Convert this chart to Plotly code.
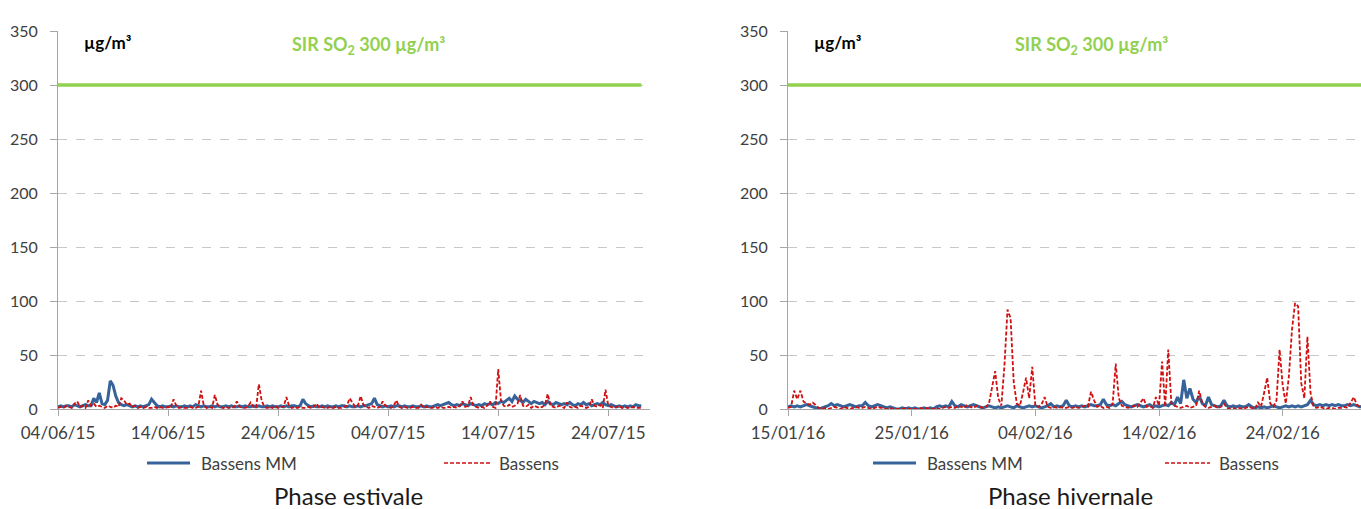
import pandas as pd
import plotly.graph_objects as go

# ---------------- DATA ----------------
# Summer phase: 6-hourly values starting 04/06/2015 00:00 (µg/m³)
summer_start = "2015-06-04 00:00"
summer_mm = [
    2, 3, 2, 3,  3, 2, 4, 3,  2, 3, 4, 3,  3, 10, 6, 15,  5, 4, 8, 26,
    22, 12, 6, 4,  3, 4, 3, 2,  3, 2, 3, 2,  3, 4, 9, 6,  3, 2, 3, 2,
    2, 3, 2, 3,  2, 2, 3, 2,  3, 2, 4, 3,  2, 3, 2, 2,  3, 2, 3, 2,
    2, 3, 2, 3,  2, 2, 3, 2,  3, 2, 2, 3,  2, 3, 2, 2,  3, 2, 3, 2,
    2, 3, 2, 3,  2, 3, 3, 2,  3, 9, 5, 3,  2, 3, 2, 2,  3, 2, 3, 2,
    2, 3, 2, 3,  3, 2, 3, 2,  2, 3, 2, 3,  3, 4, 5, 10,  4, 3, 2, 3,
    2, 3, 2, 3,  3, 2, 3, 2,  2, 3, 2, 2,  3, 2, 3, 2,  2, 3, 4, 3,
    4, 5, 6, 4,  3, 4, 3, 5,  4, 3, 5, 4,  3, 4, 3, 5,  4, 5, 4, 6,
    5, 7, 6, 8,  10, 7, 12, 9,  8, 6, 9, 7,  5, 7, 6, 5,  6, 4, 7, 5,
    4, 6, 5, 4,  5, 4, 6, 4,  3, 5, 4, 6,  4, 5, 3, 4,  5, 4, 6, 4,
    3, 4, 3, 2,  3, 2, 3, 2,  3, 2, 4, 3,  3,
]
summer_station = [
    1, 2, 1, 3,  2, 1, 5, 7,  2, 3, 1, 8,  3, 5, 2, 3,  2, 1, 3, 2,
    1, 3, 2, 10,  8, 4, 5, 2,  3, 1, 2, 1,  2, 1, 1, 2,  1, 2, 1, 1,
    2, 1, 9, 3,  1, 2, 1, 1,  2, 1, 1, 2,  17, 3, 1, 2,  1, 13, 4, 2,
    1, 2, 1, 1,  2, 7, 2, 1,  1, 2, 6, 2,  1, 23, 8, 2,  1, 2, 1, 3,
    1, 2, 2, 11,  3, 1, 2, 1,  2, 1, 1, 2,  1, 2, 5, 1,  2, 1, 1, 2,
    1, 2, 1, 1,  2, 3, 10, 6,  2, 3, 12, 4,  2, 1, 3, 2,  1, 2, 7, 3,
    2, 1, 3, 8,  2, 1, 2, 1,  1, 2, 1, 1,  4, 1, 2, 1,  1, 2, 1, 2,
    1, 1, 2, 1,  2, 1, 3, 7,  2, 3, 11, 3,  2, 1, 2, 1,  3, 7, 2, 1,
    37, 8, 3, 2,  4, 2, 3, 5,  13, 3, 2, 4,  1, 3, 2, 1,  2, 4, 14, 3,
    2, 1, 3, 2,  1, 6, 2, 1,  2, 1, 3, 2,  1, 2, 9, 3,  2, 4, 1, 18,
    3, 2, 1, 2,  3, 1, 2, 1,  1, 2, 1, 1,  1,
]

# Winter phase: 6-hourly values starting 15/01/2016 00:00 (µg/m³)
winter_start = "2016-01-15 00:00"
winter_mm = [
    2, 3, 2, 3,  2, 3, 4, 3,  2, 1, 0, 1,  2, 3, 5, 3,  4, 3, 2, 3,
    4, 3, 2, 3,  3, 6, 3, 2,  3, 4, 3, 2,  1, 2, 1, 0,  0, 1, 0, 1,
    0, 1, 0, 0,  1, 0, 1, 0,  2, 3, 2, 3,  2, 7, 3, 2,  4, 3, 2, 3,
    4, 3, 2, 1,  2, 3, 2, 1,  2, 1, 2, 3,  2, 1, 3, 2,  1, 2, 3, 2,
    3, 2, 1, 2,  3, 5, 2, 3,  2, 3, 8, 3,  2, 3, 2, 3,  2, 3, 4, 3,
    3, 4, 9, 4,  3, 4, 3, 5,  7, 4, 3, 2,  3, 4, 3, 2,  3, 4, 2, 3,
    2, 3, 4, 3,  6, 4, 11, 5,  27, 10, 19, 9,  6, 12, 5, 3,  11, 4, 3, 2,
    3, 8, 3, 2,  3, 2, 3, 2,  2, 4, 2, 1,  2, 1, 2, 1,  2, 3, 2, 1,
    2, 3, 2, 3,  2, 3, 2, 3,  4, 8, 4, 3,  4, 3, 4, 3,  4, 3, 4, 3,
    3, 4, 3, 4,  3, 2, 3,
]
winter_station = [
    1, 2, 17, 9,  17, 7, 5, 4,  6, 3, 1, 0,  1, 0, 1, 2,  1, 0, 2, 1,
    0, 1, 2, 1,  1, 2, 1, 0,  1, 2, 1, 1,  0, 1, 0, 0,  0, 0, 1, 0,
    0, 0, 0, 1,  0, 1, 0, 0,  1, 0, 1, 2,  1, 2, 1, 3,  2, 1, 4, 2,
    1, 3, 2, 1,  2, 5, 20, 35,  10, 3, 40, 92,  84, 25, 5, 3,  15, 29, 10, 39,
    3, 2, 4, 11,  2, 1, 2, 1,  2, 1, 1, 2,  1, 2, 1, 2,  3, 2, 16, 8,
    2, 3, 1, 2,  1, 5, 42, 10,  3, 2, 1, 2,  3, 2, 6, 10,  2, 3, 1, 11,
    3, 44, 2, 55,  5, 3, 2, 1,  2, 3, 1, 2,  3, 17, 5, 2,  1, 2, 3, 1,
    2, 5, 1, 0,  1, 0, 1, 0,  1, 2, 1, 0,  6, 2, 15, 29,  5, 2, 8, 55,
    22, 5, 30, 73,  98, 95, 24, 10,  67, 15, 2, 1,  2, 1, 0, 1,  1, 0, 1, 1,
    2, 1, 6, 11,  4, 2, 1,
]

threshold = [300, 300]
y_ticks = [0, 50, 100, 150, 200, 250, 300, 350]
series_names = ["Bassens MM", "Bassens"]
phase_titles = ["Phase estivale", "Phase hivernale"]
unit_label = "µg/m³"
threshold_label = "SIR SO<sub>2</sub> 300 µg/m³"

summer_range = ["2015-06-04 00:00", "2015-07-27 19:00"]
winter_range = ["2016-01-15 00:00", "2016-03-01 08:00"]

# ---------------- FIGURE ----------------
W, H = 1361, 509
BLUE = "#36639A"
RED = "#D01010"
GREEN = "#92D050"
TXT = "#404040"
FONT = "Lato"

t_s = pd.date_range(summer_start, periods=len(summer_mm), freq="6h")
t_w = pd.date_range(winter_start, periods=len(winter_mm), freq="6h")

fig = go.Figure()

def add_panel(t, mm, st, xa, ya):
    fig.add_trace(go.Scatter(x=[t[0], t[-1]], y=threshold, mode="lines",
                             line=dict(color=GREEN, width=3.5), xaxis=xa, yaxis=ya,
                             showlegend=False, hoverinfo="skip"))
    fig.add_trace(go.Scatter(x=t, y=mm, mode="lines", name=series_names[0],
                             line=dict(color=BLUE, width=3), xaxis=xa, yaxis=ya,
                             showlegend=False))
    fig.add_trace(go.Scatter(x=t, y=st, mode="lines", name=series_names[1],
                             line=dict(color=RED, width=1.8, dash="4px,2px"),
                             xaxis=xa, yaxis=ya, showlegend=False))

add_panel(t_s, summer_mm, summer_station, "x", "y")
add_panel(t_w, winter_mm, winter_station, "x2", "y2")

y_dom = [(H - 409) / H, (H - 31) / H]

xcommon = dict(type="date", tickformat="%d/%m/%y", dtick=10 * 86400000,
               showgrid=False, showline=True, linecolor="#A6A6A6", linewidth=1,
               ticks="outside", ticklen=6, tickcolor="#A6A6A6",
               tickfont=dict(family=FONT, size=17, color=TXT),
               ticklabelstandoff=3, zeroline=False, fixedrange=True,
               automargin=False)
ycommon = dict(range=[0, 350], tickvals=y_ticks, showgrid=True,
               gridcolor="#C8C8C8", griddash="dash", gridwidth=1,
               showline=True, linecolor="#A6A6A6", linewidth=1,
               ticks="outside", ticklen=7, tickcolor="#A6A6A6",
               tickfont=dict(family=FONT, size=16, color=TXT),
               ticklabelstandoff=9, zeroline=False, domain=y_dom,
               automargin=False)

fig.update_layout(
    width=W, height=H,
    margin=dict(l=0, r=0, t=0, b=0, autoexpand=False),
    paper_bgcolor="white", plot_bgcolor="white",
    showlegend=False,
    xaxis=dict(domain=[58 / W, 650 / W], range=summer_range, tick0=summer_range[0],
               anchor="y", **xcommon),
    yaxis=dict(anchor="x", **ycommon),
    xaxis2=dict(domain=[788 / W, 1.0], range=winter_range, tick0=winter_range[0],
                anchor="y2", **xcommon),
    yaxis2=dict(anchor="x2", **ycommon),
)

def px_x(p):
    return p / W

def px_y(p):
    return 1 - p / H

annots = []
for unit_x, thr_x in [(82, 290), (812, 1013)]:
    annots.append(dict(x=px_x(unit_x), y=px_y(43), xref="paper", yref="paper",
                       text="<b>" + unit_label + "</b>", showarrow=False,
                       xanchor="left", yanchor="middle",
                       font=dict(family=FONT, size=17, color="#000000")))
    annots.append(dict(x=px_x(thr_x), y=px_y(45), xref="paper", yref="paper",
                       text="<b>" + threshold_label + "</b>", showarrow=False,
                       xanchor="left", yanchor="middle",
                       font=dict(family=FONT, size=18, color=GREEN)))

legend_pos = [((147, 190, 199), (444, 491, 497)), ((873, 916, 925), (1165, 1210, 1217))]
shapes = []
for (b0, b1, bt), (r0, r1, rt) in legend_pos:
    shapes.append(dict(type="line", xref="paper", yref="paper", x0=px_x(b0), x1=px_x(b1),
                       y0=px_y(463), y1=px_y(463), line=dict(color=BLUE, width=3)))
    shapes.append(dict(type="line", xref="paper", yref="paper", x0=px_x(r0), x1=px_x(r1),
                       y0=px_y(463), y1=px_y(463), line=dict(color=RED, width=1.5, dash="4px,2px")))
    annots.append(dict(x=px_x(bt), y=px_y(463), xref="paper", yref="paper",
                       text=series_names[0], showarrow=False, xanchor="left", yanchor="middle",
                       font=dict(family=FONT, size=17, color=TXT)))
    annots.append(dict(x=px_x(rt), y=px_y(463), xref="paper", yref="paper",
                       text=series_names[1], showarrow=False, xanchor="left", yanchor="middle",
                       font=dict(family=FONT, size=17, color=TXT)))

for title, cx in zip(phase_titles, [348, 1070]):
    annots.append(dict(x=px_x(cx), y=px_y(495), xref="paper", yref="paper",
                       text=title, showarrow=False, xanchor="center", yanchor="middle",
                       font=dict(family=FONT, size=24, color="#1A1A1A")))

fig.update_layout(annotations=annots, shapes=shapes)
fig.write_html("out.html", config={"displayModeBar": False},
               post_script="document.body.style.margin='0';document.body.style.overflow='hidden';")
